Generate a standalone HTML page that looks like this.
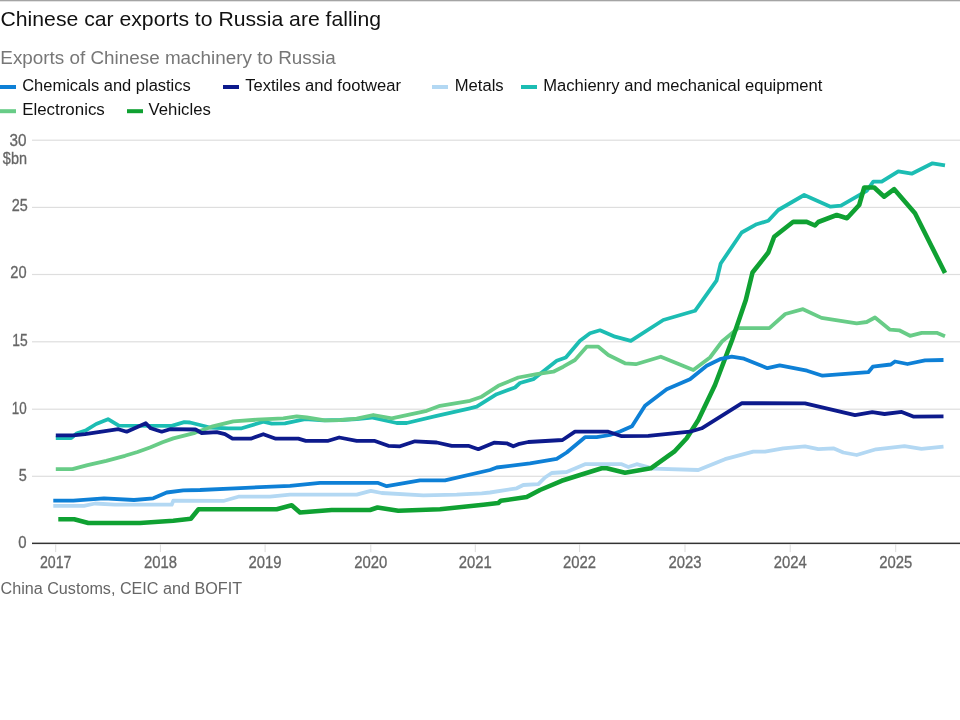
<!DOCTYPE html>
<html lang="en"><head><meta charset="utf-8"><title>Chinese car exports to Russia are falling</title>
<style>
html,body{margin:0;padding:0;background:#fff;}
body{width:960px;height:720px;overflow:hidden;position:relative;font-family:"Liberation Sans",sans-serif;}
svg{position:absolute;left:0;top:0;display:block}
text{font-family:"Liberation Sans",sans-serif}
.ax{fill:#666;font-size:16px;stroke:#666;stroke-width:0.3px}
.lg{fill:#111;font-size:15.8px}
</style></head><body>
<svg width="960" height="720" viewBox="0 0 960 720">
<rect x="0" y="0" width="960" height="1.3" fill="#a4a4a4"/>
<text x="0.5" y="25.8" font-size="21" fill="#111" textLength="380.5" lengthAdjust="spacingAndGlyphs">Chinese car exports to Russia are falling</text>
<text x="0.3" y="64" font-size="17.5" fill="#777" textLength="335.5" lengthAdjust="spacingAndGlyphs">Exports of Chinese machinery to Russia</text>

<rect x="0" y="85" width="16" height="4" fill="#0e80d6"/>
<text class="lg" x="22.2" y="90.6" textLength="168.6" lengthAdjust="spacingAndGlyphs">Chemicals and plastics</text>
<rect x="223" y="85" width="16" height="4" fill="#0d1a8c"/>
<text class="lg" x="245.2" y="90.6" textLength="155.8" lengthAdjust="spacingAndGlyphs">Textiles and footwear</text>
<rect x="432" y="85" width="16" height="4" fill="#b3d8f3"/>
<text class="lg" x="454.7" y="90.6" textLength="49" lengthAdjust="spacingAndGlyphs">Metals</text>
<rect x="521" y="85" width="16" height="4" fill="#1cbdb3"/>
<text class="lg" x="543.2" y="90.6" textLength="279.2" lengthAdjust="spacingAndGlyphs">Machienry and mechanical equipment</text>
<rect x="0" y="109.2" width="16" height="4" fill="#68cc87"/>
<text class="lg" x="22.2" y="114.6" textLength="82.6" lengthAdjust="spacingAndGlyphs">Electronics</text>
<rect x="127" y="109.2" width="16" height="4" fill="#0fa132"/>
<text class="lg" x="148.6" y="114.6" textLength="62.2" lengthAdjust="spacingAndGlyphs">Vehicles</text>
<rect x="32" y="139.6" width="928" height="1.2" fill="#dedede"/>
<rect x="32" y="206.8" width="928" height="1.2" fill="#dedede"/>
<rect x="32" y="273.9" width="928" height="1.2" fill="#dedede"/>
<rect x="32" y="341.2" width="928" height="1.2" fill="#dedede"/>
<rect x="32" y="408.6" width="928" height="1.2" fill="#dedede"/>
<rect x="32" y="475.7" width="928" height="1.2" fill="#dedede"/>
<polyline fill="none" stroke="#1cbdb3" stroke-width="3.8" stroke-linejoin="round" stroke-linecap="butt" points="55.8,438 71.2,438 77,433.2 86.2,430.2 96.2,424 108,419.2 118.8,425.7 171.7,425.8 184.2,422.2 190,422.5 210,427.5 228.3,428.3 241.7,428.3 263.3,421.7 271.7,423.7 285,423.3 305,419.2 323.3,420.3 340,420 356.7,419.2 371.7,417.5 396.7,423 406.7,423 436.7,415.8 470,408.3 476.7,406.7 496.7,394.2 515,387.5 520,383 533.3,379.2 556.7,360.8 565.8,357.5 580,340.8 590,333.3 600,330.3 615,336.7 630.8,340.8 663.3,320 695,310.8 716.5,280.7 720.7,263.5 741.7,232.5 756.7,224.2 768.3,220.8 778.3,210 804.2,195 830.5,206.7 841,205.6 866.7,190.8 873.3,181.7 881.7,181.7 898.3,171.3 911.7,173.7 932.5,163.3 945,165.3"/>
<polyline fill="none" stroke="#68cc87" stroke-width="3.8" stroke-linejoin="round" stroke-linecap="butt" points="55.8,469.2 72.5,469.2 87.5,465.2 106.25,460.8 125,455.8 137.5,452 150,447.5 162.5,442.3 173.3,438.4 195,432.8 211.7,426.7 233.3,421.3 256.7,419.7 283.3,418.3 296.7,416.3 306.7,417.5 325,420.3 340,420.2 356.7,418.7 373.3,415 391.7,418.3 426.7,410.8 440,405.8 470,400.8 481.7,396.7 498.3,385.8 518.3,377.5 536.7,374.2 553.3,371.7 563.3,366.7 575,360 586.7,346.7 598.3,346.7 608.3,355 625,363.3 635.8,364.2 660.8,356.7 693.3,370 710,357.5 722,341.5 738,328.2 769.4,328.2 785.3,314 803,309.2 821.5,317.9 856.7,323.3 866.7,322 875,317.5 890,329.7 899.2,330.3 910,335.8 921.7,332.8 936.7,332.8 945,336.2"/>
<polyline fill="none" stroke="#b3d8f3" stroke-width="3.8" stroke-linejoin="round" stroke-linecap="butt" points="53.3,505.8 84,505.8 95,503.5 115,504.7 171.7,504.7 173.3,500.7 224.2,500.8 238.3,496.7 270,496.7 290,494.7 356.7,494.7 370.8,490.8 381.7,493 423.3,495.3 456.7,494.7 481.7,493.3 490,492.5 516.7,488.3 523.3,485 538.3,484.2 545,477.5 551.7,473 566.7,472 585,464.2 621.7,464.2 628.3,467 636.7,464.2 653.3,468.7 698.3,470 725,459.2 753.3,451.7 765,451.7 783.3,448.3 805,446.3 818.3,449.2 833.3,448.3 843.3,452.5 856.7,455 876,449.3 904.5,446.2 921.5,448.9 943.5,446.7"/>
<polyline fill="none" stroke="#0fa132" stroke-width="4.6" stroke-linejoin="round" stroke-linecap="butt" points="58.3,519.2 74.2,519.2 88.3,523 140,523 173.3,520.8 190.8,518.8 198.5,509.2 276.7,509.2 291.7,505.3 300,512.5 331.7,510 370,510 377.5,507.5 398.3,510.8 440,509.2 483.3,504.7 498.3,503 500.8,500.8 526.7,497 540,490 561.7,480.8 580,475 601.7,468.3 606.7,468.3 625,472.7 650.8,468.3 674.2,451.7 686.7,438.3 698.3,420 715,385 732.1,340 745.8,300 752.5,272.5 768.3,252.5 774.2,236.7 793.3,221.7 806.7,221.9 815,225.5 818.3,222 836.7,215 847,218.3 859.2,205 864.2,187.5 874.2,187.5 884.2,196.7 894.2,189.2 915,213.3 945,273"/>
<polyline fill="none" stroke="#0e80d6" stroke-width="3.8" stroke-linejoin="round" stroke-linecap="butt" points="53.3,500.6 73.3,500.6 104,498.3 134,500 153.3,498.3 166.7,492.5 183.3,490.4 200,490 235,488.3 290,485.8 320,482.8 377.5,482.8 386.7,486.2 420,480.3 445,480.3 490,470 496.7,467.5 530,463.3 556.7,458.8 566.7,452.5 585,437.2 596.7,437.2 610,435 620,431.5 632,426.3 645,405.8 666.7,389.2 690,379.2 706.7,365.8 720,359.2 731.7,356.7 744,358.7 767.5,368.2 779.7,365.4 807,370.7 822.5,375.7 868.3,372.2 872.8,366.7 890.8,364.5 895,361.5 907.5,364 925,360.3 943.5,360"/>
<polyline fill="none" stroke="#0d1a8c" stroke-width="3.8" stroke-linejoin="round" stroke-linecap="butt" points="55.8,435.3 73.3,435.3 85,434.2 118.3,429.2 126.7,431.7 145.8,423.3 150.8,428.3 161.7,431.7 170,429.2 195.5,429.5 201.7,433 216.7,432.2 225,434.2 232.5,438.7 250.8,438.7 263.3,434.2 275.8,438.7 298.3,438.7 305.8,440.8 328.3,440.8 339.2,437.5 356.7,440.8 374.2,440.8 388.3,445.8 400,446.3 415,441.3 436.7,442.5 451.7,445.8 468.3,445.8 478.3,449.2 494,442.7 506.7,443.3 513.3,446.3 518.3,444.2 528.3,442 562.5,440 575,431.7 608.3,431.7 621.7,436.2 648.3,435.8 690,431.7 701.7,428.3 742,403.2 805,403.3 855,415.2 872.3,412.2 884.5,414 901.7,411.9 913.2,416.6 943.5,416.3"/>
<rect x="32" y="542.6" width="928" height="1.5" fill="#333"/>
<rect x="55.2" y="544.1" width="1" height="8" fill="#dcdcdc"/>
<text class="ax" x="55.7" y="567.7" text-anchor="middle" textLength="31.5" lengthAdjust="spacingAndGlyphs">2017</text>
<rect x="159.9" y="544.1" width="1" height="8" fill="#dcdcdc"/>
<text class="ax" x="160.4" y="567.7" text-anchor="middle" textLength="33" lengthAdjust="spacingAndGlyphs">2018</text>
<rect x="264.6" y="544.1" width="1" height="8" fill="#dcdcdc"/>
<text class="ax" x="265.1" y="567.7" text-anchor="middle" textLength="33" lengthAdjust="spacingAndGlyphs">2019</text>
<rect x="370.3" y="544.1" width="1" height="8" fill="#dcdcdc"/>
<text class="ax" x="370.8" y="567.7" text-anchor="middle" textLength="33" lengthAdjust="spacingAndGlyphs">2020</text>
<rect x="474.8" y="544.1" width="1" height="8" fill="#dcdcdc"/>
<text class="ax" x="475.3" y="567.7" text-anchor="middle" textLength="33" lengthAdjust="spacingAndGlyphs">2021</text>
<rect x="579.1" y="544.1" width="1" height="8" fill="#dcdcdc"/>
<text class="ax" x="579.6" y="567.7" text-anchor="middle" textLength="33" lengthAdjust="spacingAndGlyphs">2022</text>
<rect x="684.5" y="544.1" width="1" height="8" fill="#dcdcdc"/>
<text class="ax" x="685.0" y="567.7" text-anchor="middle" textLength="33" lengthAdjust="spacingAndGlyphs">2023</text>
<rect x="789.7" y="544.1" width="1" height="8" fill="#dcdcdc"/>
<text class="ax" x="790.2" y="567.7" text-anchor="middle" textLength="33" lengthAdjust="spacingAndGlyphs">2024</text>
<rect x="895.2" y="544.1" width="1" height="8" fill="#dcdcdc"/>
<text class="ax" x="895.7" y="567.7" text-anchor="middle" textLength="33" lengthAdjust="spacingAndGlyphs">2025</text>
<text class="ax" x="9.5" y="145.8" textLength="17.0" lengthAdjust="spacingAndGlyphs">30</text>
<text class="ax" x="11.65" y="210.8" textLength="16.0" lengthAdjust="spacingAndGlyphs">25</text>
<text class="ax" x="10.25" y="278.1" textLength="16.25" lengthAdjust="spacingAndGlyphs">20</text>
<text class="ax" x="12.3" y="346.4" textLength="15.4" lengthAdjust="spacingAndGlyphs">15</text>
<text class="ax" x="11.7" y="413.8" textLength="14.9" lengthAdjust="spacingAndGlyphs">10</text>
<text class="ax" x="18.8" y="480.9" textLength="8.05" lengthAdjust="spacingAndGlyphs">5</text>
<text class="ax" x="18.2" y="548.0" textLength="8.3" lengthAdjust="spacingAndGlyphs">0</text>
<text class="ax" x="2.85" y="163.9" textLength="24.1" lengthAdjust="spacingAndGlyphs">$bn</text>
<text x="0.5" y="593.6" font-size="16" fill="#666" textLength="241.5" lengthAdjust="spacingAndGlyphs">China Customs, CEIC and BOFIT</text>
</svg></body></html>
